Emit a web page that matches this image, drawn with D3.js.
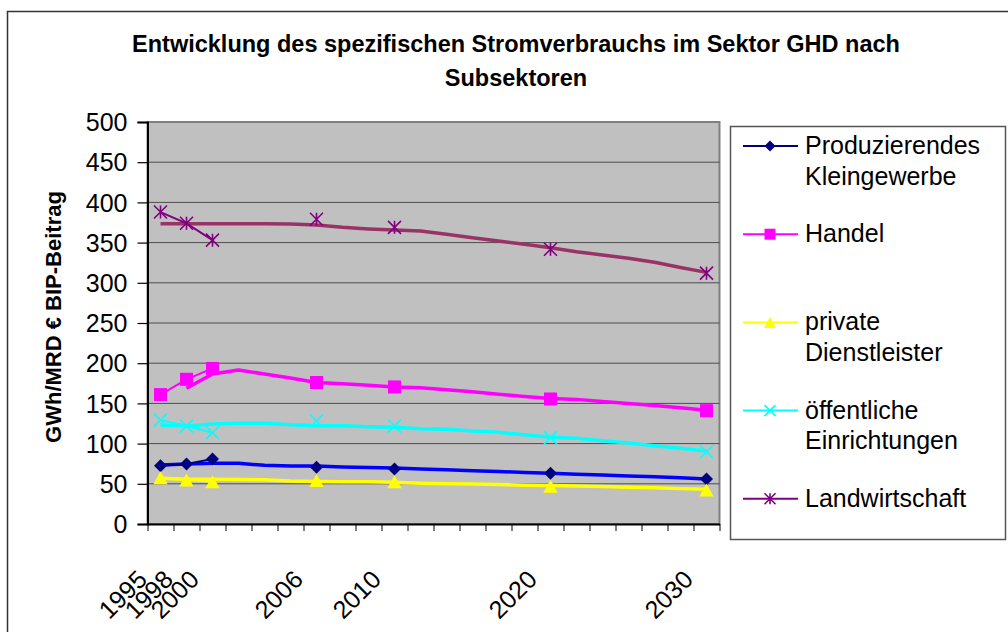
<!DOCTYPE html>
<html>
<head>
<meta charset="utf-8">
<script src="https://cdn.jsdelivr.net/npm/d3@7"></script>
<style>
    body { margin: 0; background: #fff; }
    svg text { font-family: "Liberation Sans", Arial, sans-serif; fill: #000; }
</style>
</head>
<body>
<svg id="chart" width="1008" height="632"></svg>
<script>
// categories of the x axis (only some carry a label)
var categories = ["1995", "1998", "2000", "", "", "", "2006", "", "", "2010", "", "",
    "", "", "", "2020", "", "", "", "", "", "2030"];
var yTicks = [0, 50, 100, 150, 200, 250, 300, 350, 400, 450, 500];

// series with markers (gaps where there is no value)
var prodPoints = [72.5, 74.6, 80.8, null, null, null, 70.5, null, null, 68.4, null, null,
    null, null, null, 63, null, null, null, null, null, 56];
var handelPoints = [161, 180, 193.5, null, null, null, 176, null, null, 170.5, null, null,
    null, null, null, 155.5, null, null, null, null, null, 141];
var privatPoints = [57.5, 54.7, 52.6, null, null, null, 54, null, null, 52.6, null, null,
    null, null, null, 46.9, null, null, null, null, null, 42.3];
var oeffPoints = [129.4, 121.9, 113.6, null, null, null, 128.1, null, null, 121.9, null, null,
    null, null, null, 107.4, null, null, null, null, null, 89.9];
var landPoints = [388, 374, 353, null, null, null, 379, null, null, 369, null, null,
    null, null, null, 341.7, null, null, null, null, null, 312];

// trend lines without markers
var prodTrend = [73.4, 74.6, 75.5, 75.5, 73, 72, 72, 71, 70.3, 69.5, 68.5, 67.5,
    66.3, 65.3, 64.2, 63, 62, 61, 59.8, 58.8, 57.5, 56];
var handelTrend = [null, 168.8, 186.6, 191.5, 186.6, 181.6, 176, 174.5, 172.5, 170.5, 169.5, 167,
    164.5, 161.5, 158.5, 156, 155, 152.5, 150, 147.5, 144.5, 141.5];
var privatTrend = [57, 55.6, 55.6, 55.4, 55, 53.5, 52.8, 52.6, 52.4, 52, 50.8, 50,
    49.6, 49.2, 48.2, 47.8, 47.4, 46.6, 45.8, 45.2, 44, 43.2];
var oeffTrend = [123.1, 122, 124.4, 125.2, 125.2, 123.5, 122.3, 122.3, 121, 120.2, 118.6, 117.8,
    115.6, 114, 111, 108, 106.6, 103.6, 100.7, 97.4, 94.1, 90.8];
var landTrend = [373.5, 373.5, 373.5, 373.5, 373.5, 373, 372, 369, 367, 365.7, 364.5, 360.5,
    356, 352, 348, 343.7, 338.7, 334.6, 330.5, 325.5, 319, 313];

var seriesNames = [["Produzierendes", "Kleingewerbe"], ["Handel"], ["private", "Dienstleister"],
    ["öffentliche", "Einrichtungen"], ["Landwirtschaft"]];

// marker shapes
function markerPath(type, s) {
    if (type == "diamond") return "M0," + (-s) + "L" + s + ",0L0," + s + "L" + (-s) + ",0Z";
    if (type == "square") return "M" + (-s) + "," + (-s) + "h" + (2 * s) + "v" + (2 * s) + "h" + (-2 * s) + "Z";
    if (type == "triangle") return "M0," + (-s) + "L" + (s * 1.1) + "," + s + "L" + (-s * 1.1) + "," + s + "Z";
    if (type == "x") return "M" + (-s) + "," + (-s) + "L" + s + "," + s + "M" + s + "," + (-s) + "L" + (-s) + "," + s;
    return "M" + (-s) + "," + (-s) + "L" + s + "," + s + "M" + s + "," + (-s) + "L" + (-s) + "," + s +
        "M0," + (-s) + "L0," + s;
}

var series = [
    {points: prodPoints, trend: prodTrend, color: "#000080", trendColor: "#0000FF", marker: "diamond", filled: true},
    {points: handelPoints, trend: handelTrend, color: "#FF00FF", trendColor: "#FF00FF", marker: "square", filled: true},
    {points: privatPoints, trend: privatTrend, color: "#FFFF00", trendColor: "#FFFF00", marker: "triangle", filled: true},
    {points: oeffPoints, trend: oeffTrend, color: "#00FFFF", trendColor: "#00FFFF", marker: "x", filled: false},
    {points: landPoints, trend: landTrend, color: "#800080", trendColor: "#993366", marker: "asterisk", filled: false}
];

function drawChart() {
    var svg = d3.select("#chart");

    // outer chart frame
    svg.append("rect")
        .attr("x", 7.5).attr("y", 11.5)
        .attr("width", 1020).attr("height", 700)
        .attr("fill", "#fff")
        .attr("stroke", "#333").attr("stroke-width", 1.5);

    var plotLeft = 147.5, plotRight = 719.5, plotTop = 122, plotBottom = 524;

    var x = d3.scaleBand()
        .domain(d3.range(categories.length))
        .range([plotLeft, plotRight]);
    var xEdge = d3.scaleLinear()
        .domain([0, categories.length])
        .range([plotLeft, plotRight]);
    var y = d3.scaleLinear()
        .domain([0, 500])
        .range([plotBottom, plotTop]);

    function cx(i) {
        return x(i) + x.bandwidth() / 2;
    }

    // plot area
    svg.append("rect")
        .attr("x", plotLeft).attr("y", plotTop)
        .attr("width", plotRight - plotLeft).attr("height", plotBottom - plotTop)
        .attr("fill", "#C0C0C0")
        .attr("stroke", "#808080").attr("stroke-width", 2);

    svg.append("g")
        .selectAll("line")
        .data(yTicks.slice(1, -1))
        .enter().append("line")
        .attr("x1", plotLeft).attr("x2", plotRight)
        .attr("y1", function (d) { return y(d); })
        .attr("y2", function (d) { return y(d); })
        .attr("stroke", "#4d4d4d").attr("stroke-width", 1);

    // y axis
    var yAxis = svg.append("g")
        .attr("transform", "translate(" + plotLeft + ",0)")
        .call(d3.axisLeft(y).tickValues(yTicks).tickSize(10).tickPadding(10));
    yAxis.select(".domain").attr("stroke", "#000").attr("stroke-width", 2);
    yAxis.selectAll(".tick line").attr("stroke", "#000").attr("stroke-width", 1.2);
    yAxis.selectAll(".tick text")
        .style("font-size", "25px")
        .attr("dy", "0.35em");

    // x axis: tick marks between categories
    var xAxis = svg.append("g")
        .attr("transform", "translate(0," + plotBottom + ")")
        .call(d3.axisBottom(xEdge).tickValues(d3.range(categories.length + 1))
            .tickSize(7).tickSizeOuter(0).tickFormat(""));
    xAxis.select(".domain").attr("stroke", "#000").attr("stroke-width", 2);
    xAxis.selectAll(".tick line").attr("stroke", "#000").attr("stroke-width", 1);

    svg.append("g")
        .selectAll("text")
        .data(categories)
        .enter().append("text")
        .attr("text-anchor", "end")
        .attr("transform", function (d, i) {
            return "translate(" + (cx(i) - 12) + "," + (plotBottom + 57) + ") rotate(-45)";
        })
        .style("font-size", "25px")
        .text(function (d) { return d; });

    // lines
    var line = d3.line()
        .defined(function (d) { return d != null; })
        .x(function (d, i) { return cx(i); })
        .y(function (d) { return y(d); });

    var plot = svg.append("g");
    series.forEach(function (s) {
        plot.append("path")
            .attr("d", line(s.trend))
            .attr("fill", "none")
            .attr("stroke", s.trendColor)
            .attr("stroke-width", 3.5)
            .attr("stroke-linejoin", "round");
    });
    series.forEach(function (s) {
        plot.append("path")
            .attr("d", line(s.points))
            .attr("fill", "none")
            .attr("stroke", s.color)
            .attr("stroke-width", 2);
    });
    series.forEach(function (s) {
        plot.append("g")
            .selectAll("path")
            .data(s.points.map(function (v, i) { return {v: v, i: i}; })
                .filter(function (d) { return d.v != null; }))
            .enter().append("path")
            .attr("transform", function (d) { return "translate(" + cx(d.i) + "," + y(d.v) + ")"; })
            .attr("d", markerPath(s.marker, 6.5))
            .attr("fill", s.filled ? s.color : "none")
            .attr("stroke", s.color)
            .attr("stroke-width", s.filled ? 0 : 1.6);
    });

    // legend
    svg.append("rect")
        .attr("x", 730.5).attr("y", 126.5)
        .attr("width", 275).attr("height", 413)
        .attr("fill", "#fff")
        .attr("stroke", "#555").attr("stroke-width", 1.5);

    var legend = svg.append("g")
        .selectAll("g")
        .data(series)
        .enter().append("g")
        .attr("transform", function (d, i) { return "translate(0," + (146 + i * 88.2) + ")"; });
    legend.append("line")
        .attr("x1", 743).attr("x2", 798)
        .attr("stroke", function (d) { return d.color; })
        .attr("stroke-width", 2);
    legend.append("path")
        .attr("transform", "translate(770,0)")
        .attr("d", function (d) { return markerPath(d.marker, 5.5); })
        .attr("fill", function (d) { return d.filled ? d.color : "none"; })
        .attr("stroke", function (d) { return d.color; })
        .attr("stroke-width", function (d) { return d.filled ? 0 : 1.6; });
    legend.append("text")
        .attr("x", 805)
        .attr("y", 8)
        .style("font-size", "25px")
        .selectAll("tspan")
        .data(function (d, i) { return seriesNames[i]; })
        .enter().append("tspan")
        .attr("x", 805)
        .attr("dy", function (d, j) { return j == 0 ? 0 : 30.5; })
        .text(function (d) { return d; });

    // titles
    svg.append("text")
        .attr("x", 516).attr("y", 52)
        .attr("text-anchor", "middle")
        .style("font-size", "23.5px").style("font-weight", "bold")
        .text("Entwicklung des spezifischen Stromverbrauchs im Sektor GHD nach");
    svg.append("text")
        .attr("x", 516).attr("y", 86)
        .attr("text-anchor", "middle")
        .style("font-size", "23.5px").style("font-weight", "bold")
        .text("Subsektoren");

    svg.append("text")
        .attr("transform", "translate(61,317) rotate(-90)")
        .attr("text-anchor", "middle")
        .style("font-size", "22px").style("font-weight", "bold")
        .text("GWh/MRD € BIP-Beitrag");
}

drawChart();
</script>
</body>
</html>
